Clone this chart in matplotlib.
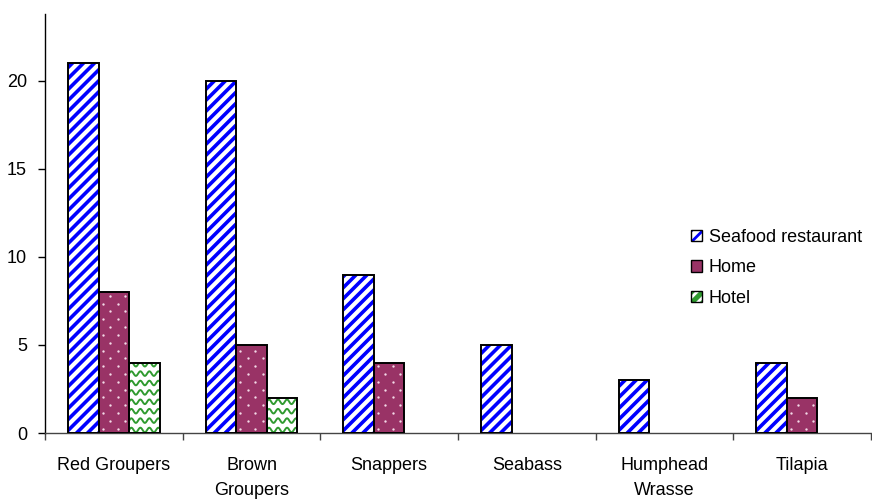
import numpy as np
import matplotlib
matplotlib.use("Agg")
import matplotlib.pyplot as plt
from matplotlib.patches import Rectangle
from matplotlib.lines import Line2D
from matplotlib.collections import LineCollection

plt.rcParams['font.family'] = ['Liberation Sans', 'DejaVu Sans']
plt.rcParams['hatch.linewidth'] = 2.0

categories = ["Red Groupers", "Brown\nGroupers", "Snappers", "Seabass",
              "Humphead\nWrasse", "Tilapia"]
series_names = ["Seafood restaurant", "Home", "Hotel"]
seafood = [21, 20, 9, 5, 3, 4]
home = [8, 5, 4, 0, 0, 2]
hotel = [4, 2, 0, 0, 0, 0]
y_ticks = [0, 5, 10, 15, 20]

BLUE = "#0000ff"
MAROON = "#993366"
GREEN = "#2f9a2f"

W, H, DPI = 872, 501, 100
fig = plt.figure(figsize=(W / DPI, H / DPI), dpi=DPI)
ax = fig.add_axes([45 / W, 1 - 433 / H, (871 - 45) / W, (433 - 14) / H])

n = len(categories)
ax.set_xlim(-0.5, n - 0.5)
ax.set_ylim(0, 23.8)
ax.set_autoscale_on(False)

bw = 0.222
x = np.arange(n)


def to_data(px, py):
    pts = ax.transData.inverted().transform(np.column_stack([px, py]))
    return pts[:, 0], pts[:, 1]


def bar_pixels(xc, h):
    (x0, y0), (x1, y1) = ax.transData.transform([(xc - bw / 2, 0), (xc + bw / 2, h)])
    return x0, y0, x1, y1


def outline(xc, h):
    ax.add_patch(Rectangle((xc - bw / 2, 0), bw, h, fill=False,
                           edgecolor="black", linewidth=1.4, zorder=4))


def striped_bar(xc, h):
    if h <= 0:
        return
    body = Rectangle((xc - bw / 2, 0), bw, h, facecolor="white",
                     edgecolor="none", zorder=2)
    ax.add_patch(body)
    x0, y0, x1, y1 = bar_pixels(xc, h)
    step = 11.0
    segs = []
    c = (y0 - x1) - step
    while c < (y1 - x0) + step:
        px = np.array([x0 - 6, x1 + 6])
        py = px + c
        dx, dy = to_data(px, py)
        segs.append(list(zip(dx, dy)))
        c += step
    lc = LineCollection(segs, colors=BLUE, linewidths=2.6, zorder=3)
    ax.add_collection(lc)
    lc.set_clip_path(body)
    outline(xc, h)


def dotted_bar(xc, h):
    if h <= 0:
        return
    body = Rectangle((xc - bw / 2, 0), bw, h, facecolor=MAROON,
                     edgecolor="none", zorder=2)
    ax.add_patch(body)
    x0, y0, x1, y1 = bar_pixels(xc, h)
    px, py = [], []
    row = 0
    yy = y0 + 4.5
    while yy < y1:
        xx = x0 + (4.0 if row % 2 == 0 else 11.5)
        while xx < x1:
            px.append(xx)
            py.append(yy)
            xx += 15.0
        yy += 7.8
        row += 1
    dx, dy = to_data(np.array(px), np.array(py))
    dots = Line2D(dx, dy, linestyle="none", marker="o", markersize=1.7,
                  markerfacecolor="#f4dbe8", markeredgewidth=0, zorder=3)
    ax.add_line(dots)
    dots.set_clip_path(body)
    outline(xc, h)


def wavy_bar(xc, h):
    if h <= 0:
        return
    body = Rectangle((xc - bw / 2, 0), bw, h, facecolor="white",
                     edgecolor="none", zorder=2)
    ax.add_patch(body)
    x0, y0, x1, y1 = bar_pixels(xc, h)
    xs = np.arange(x0 - 2, x1 + 2, 0.5)
    yy = y0 + 3.0
    while yy < y1 + 4:
        ys = yy + 2.3 * np.sin(2 * np.pi * (xs - x0) / 9.0)
        dx, dy = to_data(xs, ys)
        wave = Line2D(dx, dy, color=GREEN, linewidth=1.4, zorder=3)
        ax.add_line(wave)
        wave.set_clip_path(body)
        yy += 9.4
    outline(xc, h)


for i in range(n):
    striped_bar(x[i] - bw, seafood[i])
    dotted_bar(x[i], home[i])
    wavy_bar(x[i] + bw, hotel[i])

# axes styling
for side in ("top", "right"):
    ax.spines[side].set_visible(False)
ax.spines["left"].set_color("black")
ax.spines["bottom"].set_color("#444444")
ax.spines["left"].set_linewidth(1.0)
ax.spines["bottom"].set_linewidth(1.0)

ax.set_yticks(y_ticks)
ax.set_yticklabels([str(v) for v in y_ticks], fontsize=13)
ax.tick_params(axis="y", length=5, width=1, pad=8, color="black")

ax.set_xticks(np.arange(-0.5, n, 1.0))
ax.set_xticklabels([""] * (n + 1))
ax.set_xticks(x, minor=True)
ax.set_xticklabels(categories, minor=True, fontsize=13, linespacing=1.65)
ax.tick_params(axis="x", which="major", length=5, width=1, color="#444444")
ax.tick_params(axis="x", which="minor", length=0, pad=17)

# legend: each key is a fill with a black frame laid over it
frame = dict(facecolor="none", edgecolor="black", linewidth=1.0)
handles = [
    (Rectangle((0, 0), 1, 1, facecolor="white", edgecolor=BLUE, hatch="///",
               linewidth=0), Rectangle((0, 0), 1, 1, **frame)),
    (Rectangle((0, 0), 1, 1, facecolor=MAROON, edgecolor="none"),
     Rectangle((0, 0), 1, 1, **frame)),
    (Rectangle((0, 0), 1, 1, facecolor=GREEN, edgecolor="white", hatch="///",
               linewidth=0), Rectangle((0, 0), 1, 1, **frame)),
]
leg = fig.legend(handles, series_names, loc="upper left",
                 bbox_to_anchor=(691 / W, 1 - 229 / H), frameon=False,
                 fontsize=13, handlelength=0.62, handleheight=0.62,
                 handletextpad=0.35, labelspacing=0.74, borderpad=0,
                 borderaxespad=0)

fig.savefig("out.png", dpi=DPI)
